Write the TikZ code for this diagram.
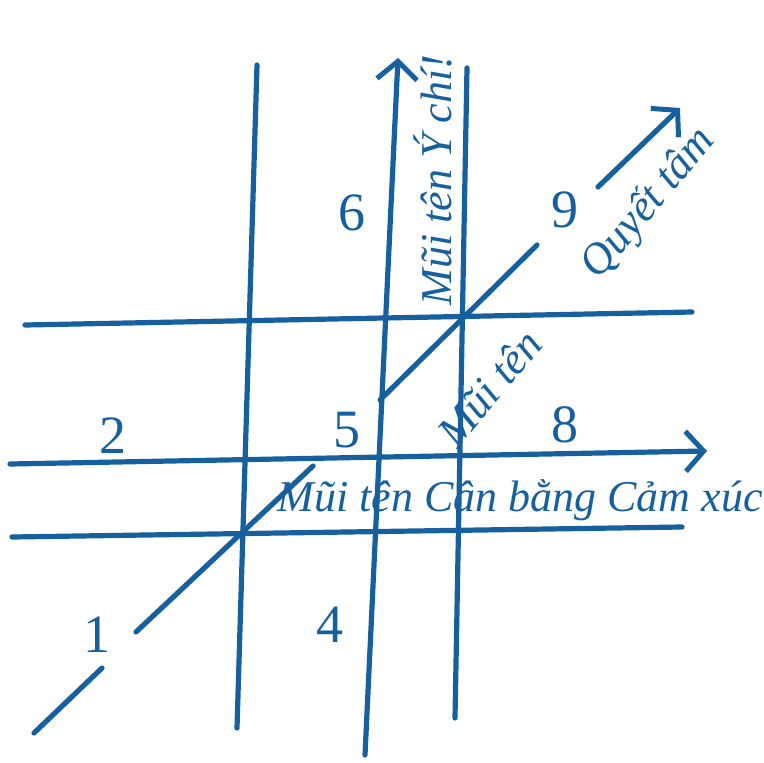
\documentclass[tikz,border=0pt]{standalone}
\usepackage{fontspec}
\setmainfont{Liberation Serif}
\usetikzlibrary{arrows.meta}
\definecolor{ink}{RGB}{22,96,158}
\begin{document}
\begin{tikzpicture}[x=1pt,y=-1pt,
  stroke/.style={draw=ink,line width=5.2pt,line cap=round},
  arrowline/.style={stroke,-{Straight Barb[length=18pt,width=40pt,line width=5pt]}},
  num/.style={text=ink,font=\fontsize{54}{58}\selectfont,inner sep=0pt},
  hand/.style={text=ink,font=\fontsize{44}{48}\selectfont\itshape,inner sep=0pt}]
\useasboundingbox (0,0) rectangle (764,763);
% vertical lines
\coordinate (a1) at (257,65);  \coordinate (a2) at (237,728);
\coordinate (b1) at (365,755); \coordinate (b2) at (398,58);
\coordinate (c1) at (467,68);  \coordinate (c2) at (455,718);
\draw[stroke] (a1) -- (a2);
\draw[arrowline] (b1) -- (b2);
\draw[stroke] (c1) -- (c2);
% horizontal lines
\coordinate (h1) at (25,325);  \coordinate (h2) at (692,312);
\coordinate (m1) at (10,464);  \coordinate (m2) at (707,451);
\coordinate (l1) at (12,537);  \coordinate (l2) at (682,527);
\draw[stroke] (h1) -- (h2);
\draw[arrowline] (m1) -- (m2);
\draw[stroke] (l1) -- (l2);
% diagonal
\coordinate (d1) at (34,733);  \coordinate (d2) at (102,668);
\coordinate (d3) at (136,632); \coordinate (d4) at (313,466);
\coordinate (d5) at (380,400); \coordinate (d6) at (537,245);
\coordinate (d7) at (598,187); \coordinate (d8) at (680,108);
\draw[stroke] (d1) -- (d2);
\draw[stroke] (d3) -- (d4);
\draw[stroke] (d5) -- (d6);
\draw[arrowline] (d7) -- (d8);
% numbers
\node[num] (n1) at (97,635) {1};
\node[num] (n2) at (113,436) {2};
\node[num] (n4) at (330,625) {4};
\node[num] (n5) at (347,430) {5};
\node[num] (n6) at (352,213) {6};
\node[num] (n8) at (565,425) {8};
\node[num] (n9) at (565,210) {9};
% texts
\node[hand,rotate=90] (t1) at (433,180) {Mũi tên Ý chí!};
\node[hand,rotate=50] (t2) at (578,288) {Mũi tên\hspace{85pt}Quyết tâm};
\node[hand] (t3) at (520,500) {Mũi tên Cân bằng Cảm xúc};
\end{tikzpicture}
\end{document}
